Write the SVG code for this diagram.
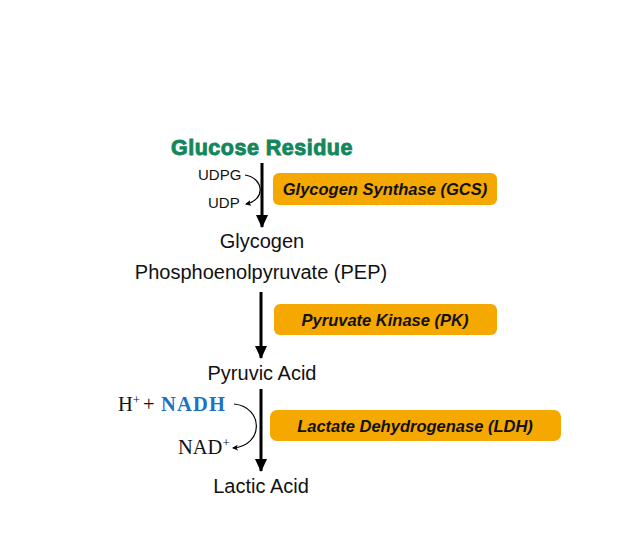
<svg xmlns="http://www.w3.org/2000/svg" width="624" height="543" viewBox="0 0 624 543">
<style>
.lbl{font-family:"Liberation Sans",Arial,sans-serif;font-size:20px;fill:#111;text-anchor:middle}
.sm{font-family:"Liberation Sans",Arial,sans-serif;font-size:15px;fill:#111}
.box{fill:#F5A800}
.bt{font-family:"Liberation Sans",Arial,sans-serif;font-size:16.5px;font-weight:bold;font-style:italic;fill:#111;text-anchor:middle}
.ser{font-family:"Liberation Serif","Times New Roman",serif;font-size:20.5px;fill:#111}
.main{stroke:#000;stroke-width:3;fill:none}
.thin{stroke:#000;stroke-width:1.2;fill:none}
</style>
<defs>
<marker id="big" markerWidth="13" markerHeight="12" refX="12" refY="6" orient="auto" markerUnits="userSpaceOnUse" viewBox="0 0 13 12">
<path d="M0,0 L13,6 L0,12 Z" fill="#000"/>
</marker>
<marker id="small" markerWidth="6" markerHeight="6" refX="5" refY="3" orient="auto" markerUnits="userSpaceOnUse" viewBox="0 0 6 6">
<path d="M0,0 L6,3 L0,6 L1.5,3 Z" fill="#000"/>
</marker>
</defs>
<rect width="624" height="543" fill="#fff"/>
<g id="connectors">
<line class="main" x1="262" y1="163" x2="262" y2="227" marker-end="url(#big)"/>
<line class="main" x1="261" y1="292" x2="261" y2="358" marker-end="url(#big)"/>
<line class="main" x1="261" y1="389" x2="261" y2="471" marker-end="url(#big)"/>
<path class="thin" d="M245,175 C264,178 266,200 246,204" marker-end="url(#small)"/>
<path class="thin" d="M234,404 C264,407 264,446 233,448" marker-end="url(#small)"/>
</g>
<g id="glucose"><text x="262" y="155" font-family="'Liberation Sans',Arial,sans-serif" font-size="21.5" font-weight="900" fill="#13875A" stroke="#13875A" stroke-width="0.9" letter-spacing="0.5" text-anchor="middle">Glucose Residue</text></g>
<g id="udpg"><text class="sm" x="198" y="180">UDPG</text></g>
<g id="udp"><text class="sm" x="208" y="208">UDP</text></g>
<g id="gcs"><rect class="box" x="273" y="173" width="224" height="32" rx="6"/><text class="bt" x="385" y="195">Glycogen Synthase (GCS)</text></g>
<g id="glycogen"><text class="lbl" x="262" y="248">Glycogen</text></g>
<g id="pep"><text class="lbl" x="261" y="279">Phosphoenolpyruvate (PEP)</text></g>
<g id="pk"><rect class="box" x="274" y="304" width="223" height="31" rx="6"/><text class="bt" x="385" y="326">Pyruvate Kinase (PK)</text></g>
<g id="pyruvic"><text class="lbl" x="262" y="380">Pyruvic Acid</text></g>
<g id="nadh"><text class="ser" y="411"><tspan x="118">H</tspan><tspan dy="-7" font-size="13">+</tspan><tspan x="143" y="411">+</tspan><tspan x="161" fill="#1B72C4" font-weight="bold" letter-spacing="1.2">NADH</tspan></text></g>
<g id="nad"><text class="ser" y="454"><tspan x="178">NAD</tspan><tspan dy="-7" font-size="13">+</tspan></text></g>
<g id="ldh"><rect class="box" x="270" y="410" width="291" height="31" rx="7"/><text class="bt" x="415" y="432">Lactate Dehydrogenase (LDH)</text></g>
<g id="lactic"><text class="lbl" x="261" y="493">Lactic Acid</text></g>
</svg>
